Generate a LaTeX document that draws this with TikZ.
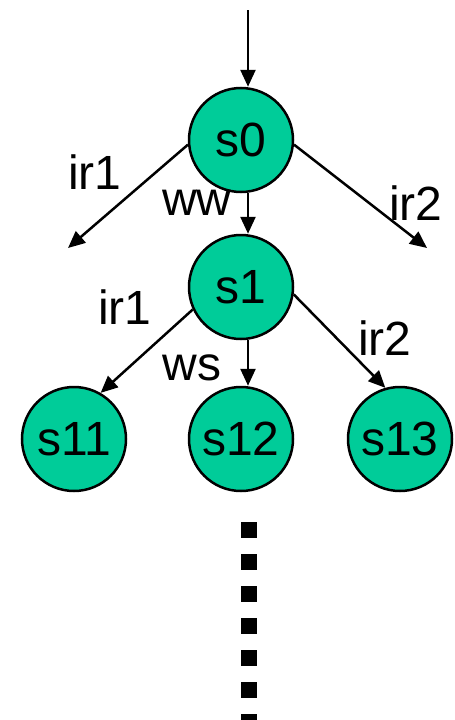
\documentclass[tikz,border=0pt]{standalone}
\usepackage{fontspec}
\setmainfont{Liberation Sans}
\usetikzlibrary{arrows.meta}
\definecolor{nodegreen}{RGB}{0,204,153}
\begin{document}
\begin{tikzpicture}[x=1pt,y=-1pt,
  state/.style={circle,draw=black,line width=2.5pt,fill=nodegreen,minimum size=104pt,inner sep=0pt,font=\fontsize{48}{50}\selectfont},
  arr/.style={line width=2.5pt,-{Triangle[length=17pt,width=15pt]}},
  lab/.style={font=\fontsize{48}{50}\selectfont,inner sep=0pt},
  dotsq/.style={fill=black}]
\useasboundingbox (0,0) rectangle (455,720);
\clip (0,0) rectangle (455,720);
\node[state] (s0) at (241,140) {s0};
\node[state] (s1) at (241,287) {s1};
\node[state] (s11) at (74,439) {s11};
\node[state] (s12) at (241,439) {s12};
\node[state] (s13) at (400,439) {s13};
\coordinate (top) at (248,10);
\coordinate (l0) at (68,248);
\coordinate (r0) at (427,248);
\draw[arr] (top) -- (top |- s0.north);
\draw[arr] ([xshift=7pt]s0.south) -- ([xshift=7pt]s1.north);
\draw[arr] (s0.185) -- (l0);
\draw[arr] (s0.355) -- (r0);
\draw[arr] (s1.205) -- (s11.60);
\draw[arr] ([xshift=7pt]s1.south) -- ([xshift=7pt]s12.north);
\draw[arr] (s1.352) -- (s13.106);
\node[lab] (t1) at (95,172) {ir1};
\node[lab] (t2) at (197,203) {ww};
\node[lab] (t3) at (416,203) {ir2};
\node[lab] (t4) at (125,307) {ir1};
\node[lab] (t5) at (192,368) {ws};
\node[lab] (t6) at (385,338) {ir2};
\foreach \i in {0,...,6}{
  \fill[dotsq] (241,522+32*\i) rectangle (257,538+32*\i);
}
\end{tikzpicture}
\end{document}
